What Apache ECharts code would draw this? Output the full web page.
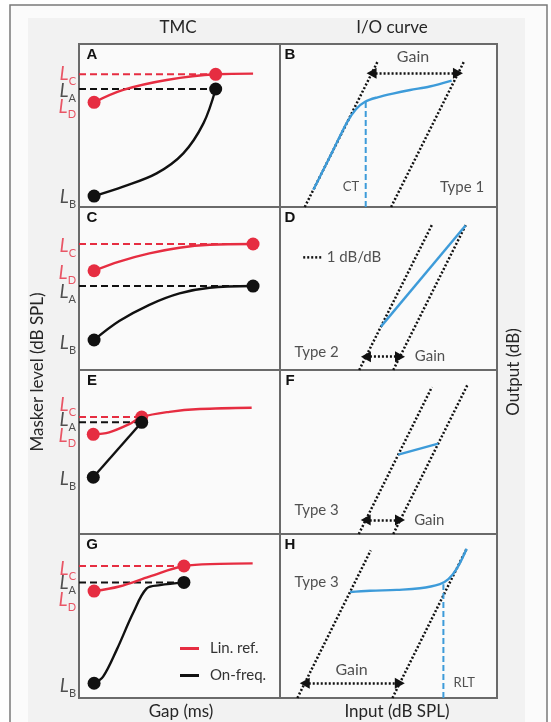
<!DOCTYPE html>
<html><head><meta charset="utf-8">
<script src="https://cdn.jsdelivr.net/npm/echarts@6/dist/echarts.min.js"></script>
<style>html,body{margin:0;padding:0;background:#fff}#c{width:551px;height:722px}</style>
</head><body><div id="c"></div>
<script>
// ================= DATA =================
// Label names for TMC panels: L_C, L_A, L_D, L_B
const levelNames = ['C', 'A', 'D', 'B'];
// TMC panel A
const levelsA = [81.4, 72.4, 64.2, 6.7];
const gapsA = [7.5, 68];
const redCurveA = [[7.5,64.2],[22,71.8],[43.6,77.9],[68,81.4],[86.6,81.8]];
const blackCurveA = [[7.5,6.7],[22,12.5],[38.6,20.6],[51.9,32.9],[61.9,51.3],[68,72.4]];
const tickLabelsA = [81.4, 71, 61.3, 6];
// TMC panel C
const levelsC = [77.3, 51.5, 60.9, 18.4];
const gapsC = [7.5, 86.6];
const redCurveC = [[7.5,60.9],[20,66.5],[35,71.5],[50,75],[65,76.8],[86.6,77.3]];
const blackCurveC = [[7.5,18.4],[20,30],[35,40],[50,47],[65,50.5],[86.6,51.5]];
const tickLabelsC = [76, 47.9, 59.5, 16.6];
// TMC panel E
const levelsE = [71.3, 68.1, 60.8, 34.6];
const gapsE = [7.1, 31.2];
const redCurveE = [[7.1,60.8],[15,62],[25,67],[31.2,71.3],[45,74.5],[60,76.2],[85.9,77]];
const blackCurveE = [[7.1,34.6],[31.2,68.1]];
const tickLabelsE = [78.7, 69.5, 59.8, 33.5];
// TMC panel G
const levelsG = [80.5, 70.5, 65.2, 9];
const gapsG = [7.5, 52.2];
const redCurveG = [[7.5,65.2],[20,68],[35,74],[52.2,80.5],[70,81.8],[86.4,82.1]];
const blackCurveG = [[7.5,9],[12,13],[18.8,29.5],[26.9,51.8],[33.7,66.8],[40.3,68.8],[52.2,70.5]];
const tickLabelsG = [78.7, 70.1, 59.8, 7.3];

// I/O panel B
const leftLineB = [[11.4,0],[44.9,89]];
const rightLineB = [[51.2,0],[84.7,89]];
const blueB = [[15.4,10.6],[24,33.5],[31,52.2],[35,60],[39.2,64.6],[45,67.3],[52,69.6],[60,71.8],[69,73.9],[79.1,77.5]];
const vlineB = [[39.5,0],[39.5,64.8]];
const gainB = [[42.2,82],[82,82]];
const textsB = ['Gain', 'CT', 'Type 1'];
const textAtB = [[61.3,92.2],[32.7,12.3],[83.9,12.3]];
// I/O panel D
const leftLineD = [[36.5,0],[70,89]];
const rightLineD = [[52.2,0],[86,90]];
const blueD = [[46.5,26.6],[85.5,88.6]];
const slopeKeyD = [[10.7,69.1],[19.2,69.1]];
const gainD = [[39.6,8.2],[55.3,8.2]];
const textsD = ['1 dB/dB', 'Type 2', 'Gain'];
const textAtD = [[21.5,69.1],[16.9,11.2],[69.1,8.2]];
// I/O panel F
const leftLineF = [[36.3,0],[70,89.6]];
const rightLineF = [[52.2,0],[86.3,90.7]];
const blueF = [[54.5,48.4],[72.9,55.1]];
const gainF = [[39.5,8.5],[55.3,8.5]];
const textsF = ['Type 3', 'Gain'];
const textAtF = [[16.9,14.6],[68.8,8.5]];
// I/O panel H
const leftLineH = [[8,0],[41.8,90]];
const rightLineH = [[51.8,0],[86.1,91.3]];
const blueH = [[32.3,64.6],[41.5,65.4],[53.8,65.9],[64.5,66.9],[73.7,69.5],[77.6,72.5],[81.4,78.7],[86,91]];
const vlineH = [[75.3,0],[75.3,69.3]];
const gainH = [[11.4,9],[55.2,9]];
const textsH = ['Type 3', 'Gain', 'RLT'];
const textAtH = [[16.9,70.9],[33,17.1],[84.9,9]];

const panelLetters = ['A','B','C','D','E','F','G','H'];
const columnTitles = ['TMC', 'I/O curve'];
const xTitles = ['Gap (ms)', 'Input (dB SPL)'];
const yTitles = ['Masker level (dB SPL)', 'Output (dB)'];
const legendNames = ['Lin. ref.', 'On-freq.'];

// ================= STYLE / LAYOUT =================
const RED = '#e62d41', BLACK = '#111111', BLUE = '#3d9bd9', TXT = '#262626';
const FONT = 'Lato, "Open Sans", sans-serif';
const colLeft = [79, 280], colWidth = [201, 217];
const rowTop = [44, 207, 370, 534], rowHeight = [163, 163, 164, 164];

const grids = [], xAxes = [], yAxes = [];
for (let i = 0; i < 8; i++) {
  const r = Math.floor(i / 2), c = i % 2;
  grids.push({left: colLeft[c], top: rowTop[r], width: colWidth[c], height: rowHeight[r],
    show: true, borderColor: '#6a6a6a', borderWidth: 2, backgroundColor: '#fafafa'});
  xAxes.push({type: 'value', gridIndex: i, min: 0, max: 100, show: false});
  yAxes.push({type: 'value', gridIndex: i, min: 0, max: 100, show: false});
}

const series = [];
function line(gi, data, color, opts) {
  opts = opts || {};
  series.push(Object.assign({
    type: 'line', xAxisIndex: gi, yAxisIndex: gi, data: data, showSymbol: false, symbol: 'none',
    clip: false, silent: true, z: 3,
    lineStyle: {color: color, width: opts.width || 2.4, type: opts.dash || 'solid', cap: 'butt'},
    itemStyle: {color: color}
  }, opts.extra || {}));
}
function dots(gi, data, color) {
  series.push({type: 'scatter', xAxisIndex: gi, yAxisIndex: gi, data: data, symbolSize: 13,
    clip: false, silent: true, z: 5, itemStyle: {color: color, opacity: 1}});
}
function texts(gi, names, at, colors, extra) {
  series.push({type: 'scatter', xAxisIndex: gi, yAxisIndex: gi, symbolSize: 0, clip: false, silent: true, z: 6,
    data: names.map((n, k) => Object.assign({name: n, value: at[k],
      label: {color: colors[k]}}, (extra && extra[k]) || {})),
    label: {show: true, position: 'inside', formatter: p => p.name,
      fontFamily: FONT, fontSize: 15, color: TXT}});
}

// TMC panels
const tmc = [
  {gi: 0, lv: levelsA, gp: gapsA, red: redCurveA, blk: blackCurveA, tk: tickLabelsA},
  {gi: 2, lv: levelsC, gp: gapsC, red: redCurveC, blk: blackCurveC, tk: tickLabelsC},
  {gi: 4, lv: levelsE, gp: gapsE, red: redCurveE, blk: blackCurveE, tk: tickLabelsE},
  {gi: 6, lv: levelsG, gp: gapsG, red: redCurveG, blk: blackCurveG, tk: tickLabelsG}
];
tmc.forEach(p => {
  const [lc, la, ld, lb] = p.lv;
  line(p.gi, [[0, lc], [p.gp[1], lc]], RED, {dash: [7, 4], width: 2});
  line(p.gi, [[0, la], [p.gp[1], la]], BLACK, {dash: [7, 4], width: 2});
  const isG = p.gi === 6;
  line(p.gi, p.red, RED, {width: 2.4, extra: {smooth: 0.35, name: isG ? legendNames[0] : undefined}});
  line(p.gi, p.blk, BLACK, {width: 2.4, extra: {smooth: 0.35, name: isG ? legendNames[1] : undefined}});
  dots(p.gi, [[p.gp[0], ld], [p.gp[1], lc]], RED);
  dots(p.gi, [[p.gp[0], lb], [p.gp[1], la]], BLACK);
  series.push({type: 'scatter', xAxisIndex: p.gi, yAxisIndex: p.gi, symbolSize: 0, clip: false, silent: true, z: 6,
    data: levelNames.map((n, k) => {
      const red = (n === 'C' || n === 'D');
      return {name: n, value: [0, p.tk[k]], label: {rich: {L: {color: red ? RED : TXT}}}};
    }),
    label: {show: true, position: 'left', distance: 3,
      formatter: d => '{L|L}{' + ((d.name === 'C' || d.name === 'D') ? 'sr' : 'sb') + '|' + d.name + '}',
      rich: {
        L: {fontFamily: FONT, fontStyle: 'italic', fontSize: 19, lineHeight: 20, verticalAlign: 'middle'},
        sr: {fontFamily: FONT, fontSize: 11, lineHeight: 20, verticalAlign: 'bottom', color: RED, padding: [0, 0, -3, 0]},
        sb: {fontFamily: FONT, fontSize: 11, lineHeight: 20, verticalAlign: 'bottom', color: TXT, padding: [0, 0, -3, 0]}
      }}});
});

// I/O panels
function gainArrow(gi, seg) {
  series.push({type: 'line', xAxisIndex: gi, yAxisIndex: gi, data: [], silent: true, z: 4,
    markLine: {silent: true, animation: false, symbolSize: [11, 10],
      label: {show: false}, lineStyle: {color: BLACK, width: 2.5, type: [2, 2]},
      data: [[{coord: seg[0], symbol: 'triangle', symbolRotate: 90}, {coord: seg[1], symbol: 'triangle', symbolRotate: -90}]]}});
}
const DOT = {dash: [2, 2], width: 2.5};
// B
line(1, leftLineB, BLACK, DOT); line(1, rightLineB, BLACK, DOT);
line(1, blueB, BLUE, {width: 2.4, extra: {smooth: 0.3, z: 4}});
line(1, vlineB, BLUE, {dash: [6, 3], width: 2});
gainArrow(1, gainB);
texts(1, textsB, textAtB, [TXT, BLUE, TXT], [{label: {fontSize: 16}}, {label: {fontSize: 13}}, {}]);
// D
line(3, leftLineD, BLACK, DOT); line(3, rightLineD, BLACK, DOT);
line(3, blueD, BLUE, {width: 2.4, extra: {z: 4}});
line(3, slopeKeyD, BLACK, DOT);
gainArrow(3, gainD);
texts(3, textsD, textAtD, [TXT, TXT, TXT], [{label: {position: 'right', distance: 0}}, {}, {}]);
// F
line(5, leftLineF, BLACK, DOT); line(5, rightLineF, BLACK, DOT);
line(5, blueF, BLUE, {width: 2.4, extra: {z: 4}});
gainArrow(5, gainF);
texts(5, textsF, textAtF, [TXT, TXT]);
// H
line(7, leftLineH, BLACK, DOT); line(7, rightLineH, BLACK, DOT);
line(7, blueH, BLUE, {width: 2.4, extra: {smooth: 0.4, z: 4}});
line(7, vlineH, BLUE, {dash: [6, 3], width: 2});
gainArrow(7, gainH);
texts(7, textsH, textAtH, [TXT, TXT, BLUE], [{}, {label: {fontSize: 16}}, {label: {fontSize: 13}}]);

// graphics: frame, titles, panel letters
const graphic = [
  {type: 'rect', z: -20, shape: {x: 10, y: 5, width: 537, height: 730}, style: {fill: '#fbfbfb', stroke: '#7a7a7a', lineWidth: 1.5}},
  {type: 'rect', z: -19, shape: {x: 28, y: 18, width: 497, height: 720}, style: {fill: '#f2f2f2'}},
  {type: 'text', x: 178, y: 28, z: 10, style: {text: columnTitles[0], font: '17px ' + FONT, fill: TXT, align: 'center', verticalAlign: 'middle'}},
  {type: 'text', x: 392, y: 28, z: 10, style: {text: columnTitles[1], font: '17px ' + FONT, fill: TXT, align: 'center', verticalAlign: 'middle'}},
  {type: 'text', x: 181, y: 712, z: 10, style: {text: xTitles[0], font: '17px ' + FONT, fill: TXT, align: 'center', verticalAlign: 'middle'}},
  {type: 'text', x: 397, y: 712, z: 10, style: {text: xTitles[1], font: '17px ' + FONT, fill: TXT, align: 'center', verticalAlign: 'middle'}},
  {type: 'text', x: 38, y: 372, rotation: Math.PI / 2, z: 10, style: {text: yTitles[0], font: '17px ' + FONT, fill: TXT, align: 'center', verticalAlign: 'middle'}},
  {type: 'text', x: 514, y: 372, rotation: Math.PI / 2, z: 10, style: {text: yTitles[1], font: '17px ' + FONT, fill: TXT, align: 'center', verticalAlign: 'middle'}}
];
panelLetters.forEach((L, i) => {
  const r = Math.floor(i / 2), c = i % 2;
  graphic.push({type: 'text', z: 10, x: colLeft[c] + (c === 0 ? 13 : 10), y: rowTop[r] + 11,
    style: {text: L, font: 'bold 15px "Liberation Sans", Arial, sans-serif', fill: '#111', align: 'center', verticalAlign: 'middle'}});
});

const chart = echarts.init(document.getElementById('c'), null, {renderer: 'canvas'});
chart.setOption({
  animation: false,
  backgroundColor: '#ffffff',
  grid: grids, xAxis: xAxes, yAxis: yAxes,
  legend: {left: 175, top: 636, orient: 'vertical', itemWidth: 19, itemHeight: 3, itemGap: 12,
    icon: 'rect', selectedMode: false, data: legendNames,
    textStyle: {fontFamily: FONT, fontSize: 15, color: '#333', padding: [0, 0, 0, 6]}},
  graphic: graphic,
  series: series
});
</script></body></html>
